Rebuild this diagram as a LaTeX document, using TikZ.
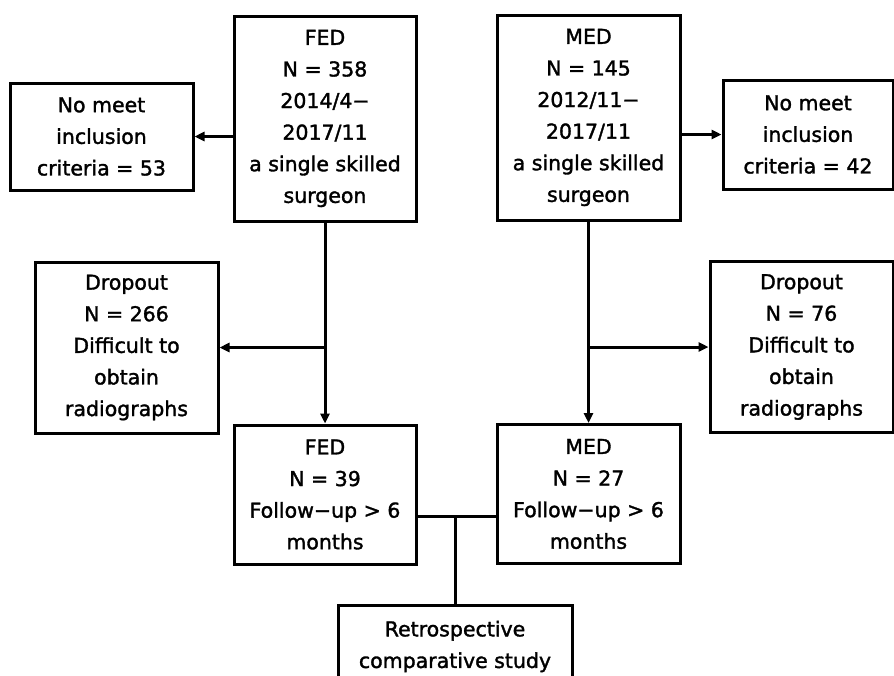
\documentclass[tikz,border=0pt]{standalone}
\usepackage{fontspec}
\setmainfont{DejaVu Sans}[BoldFont=DejaVu Sans,BoldFeatures={FakeBold=1.6}]
\usetikzlibrary{positioning,arrows.meta,calc}

\begin{document}
\begin{tikzpicture}[x=1pt,y=-1pt,
    box/.style={draw,line width=3pt,align=center,inner sep=0pt,font=\fontsize{20.5}{31.6}\selectfont\bfseries},
    link/.style={line width=3pt},
    arr/.style={link,-{Triangle[length=10pt,width=9pt]}}]
        \useasboundingbox (0,0) rectangle (894,675);
        \fill[white] (0,0) rectangle (894,675);
        \clip (0,0) rectangle (894,675);
        \node[box,minimum width=182pt,minimum height=205pt] (fedTop) at (325,118.5) {FED\\N = 358\\2014/4−\\2017/11\\a single skilled\\surgeon};
        \node[box,minimum width=183pt,minimum height=205pt] (medTop) at (588.5,117.5) {MED\\N = 145\\2012/11−\\2017/11\\a single skilled\\surgeon};
        \node[box,minimum width=183pt,minimum height=107pt] (fedExcl) at (101.5,136.5) {No meet\\inclusion\\criteria = 53};
        \node[box,minimum width=170pt,minimum height=109pt] (medExcl) at (808,134.5) {No meet\\inclusion\\criteria = 42};
        \node[box,minimum width=183pt,minimum height=171pt] (fedDrop) at (126.5,347.5) {Dropout\\N = 266\\Difficult to\\obtain\\radiographs};
        \node[box,minimum width=183pt,minimum height=171pt] (medDrop) at (801.5,347) {Dropout\\N = 76\\Difficult to\\obtain\\radiographs};
        \node[box,minimum width=182pt,minimum height=139pt] (fedFollow) at (325,494.5) {FED\\N = 39\\Follow−up > 6\\months};
        \node[box,minimum width=183pt,minimum height=139pt] (medFollow) at (588.5,494) {MED\\N = 27\\Follow−up > 6\\months};
        \node[box,minimum width=234pt,minimum height=83pt] (study) at (455,646.5) {Retrospective\\comparative study};
        \coordinate (join) at (455,516);
        \draw[arr] (fedTop.west |- fedExcl) -- (fedExcl.east);
        \draw[arr] (medTop.east |- medExcl) -- (medExcl.west);
        \draw[arr] (fedTop) -- (fedFollow);
        \draw[arr] (medTop) -- (medFollow);
        \draw[arr] (fedTop.south |- fedDrop) -- (fedDrop.east);
        \draw[arr] (medTop.south |- medDrop) -- (medDrop.west);
        \draw[link] (fedFollow.east |- join) -- (medFollow.west |- join);
        \draw[link] (join) -- (study);
      \end{tikzpicture}
\end{document}
